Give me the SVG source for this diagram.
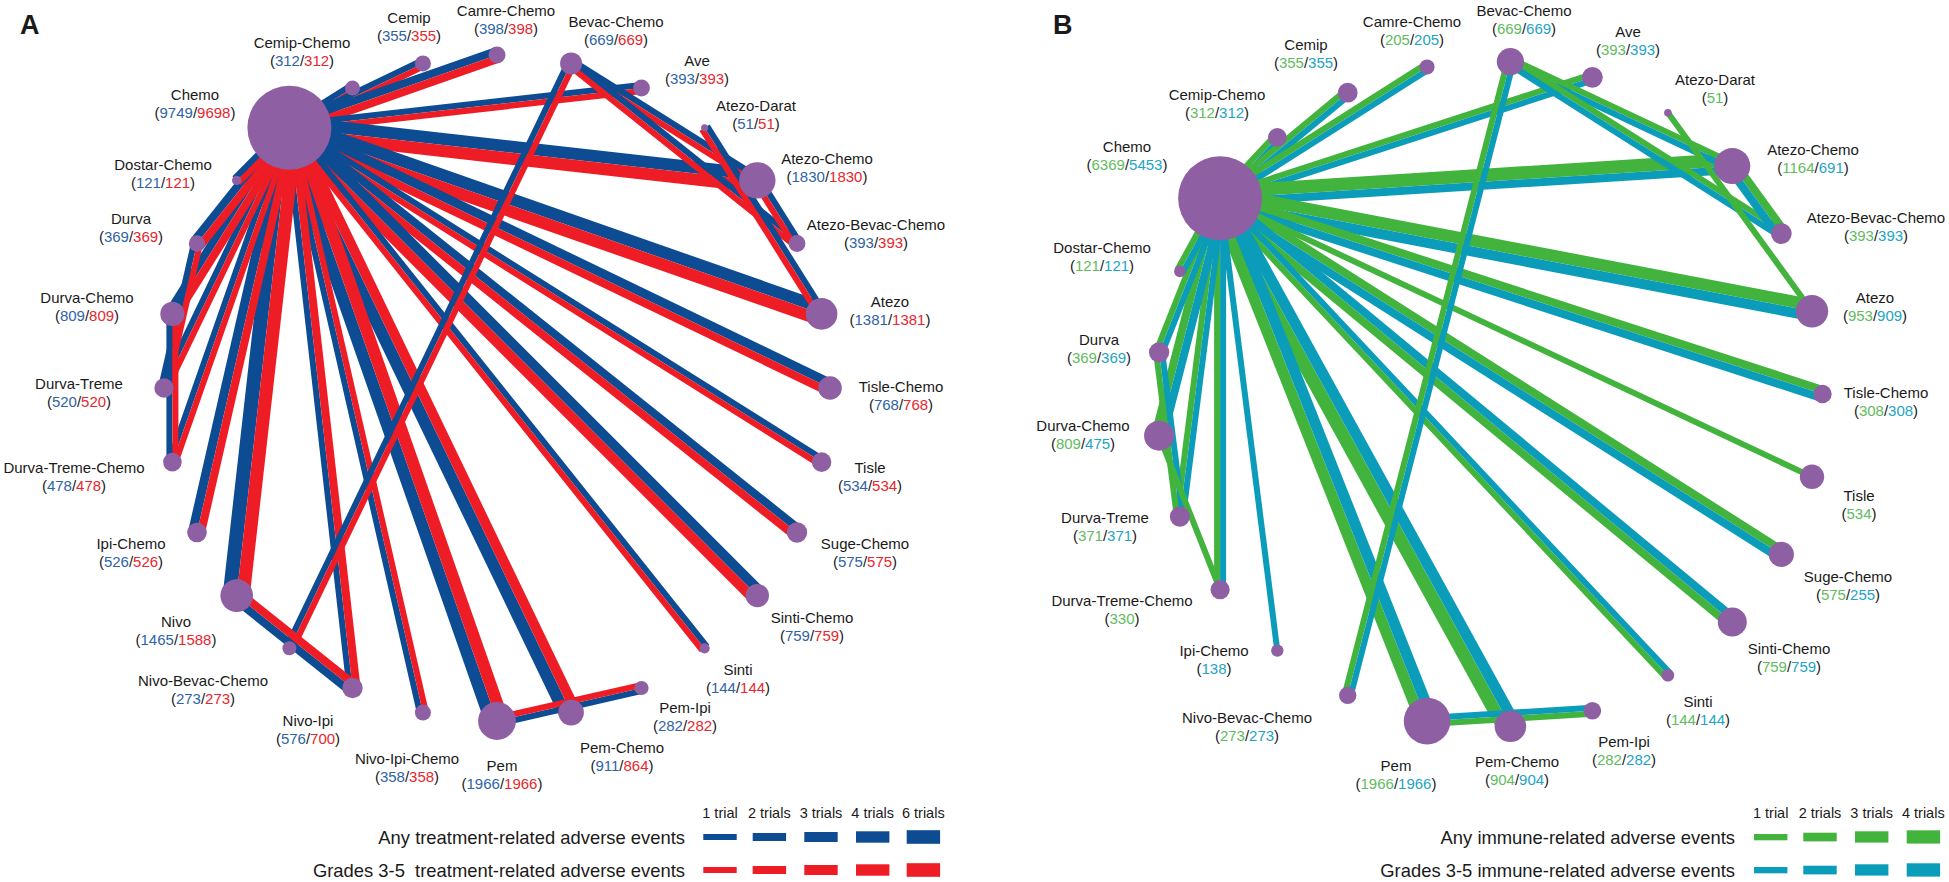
<svg xmlns="http://www.w3.org/2000/svg" width="1949" height="882" viewBox="0 0 1949 882">
<style>
.b{fill:#0d4c92}.r{fill:#ee1c25}.g{fill:#42b43e}.c{fill:#0b9cba}.n{fill:#8f5fa3}
text{font-family:"Liberation Sans",Arial,sans-serif;fill:#1a1a1a}
.t{font-size:15px;text-anchor:middle}
.nb{fill:#2f63a8}.nr{fill:#e8262d}.ng{fill:#62bb5e}.nc{fill:#22a4c4}
.lg{font-size:18.4px;text-anchor:end}.lt{font-size:14.5px;text-anchor:middle}
.pl{font-size:27px;font-weight:bold}
</style>
<rect width="1949" height="882" fill="#fff"/>
<text class="pl" x="20" y="34">A</text>
<text class="pl" x="1053" y="34">B</text>
<g id="edges-A">
<g transform="translate(289.4 127.7) rotate(327.86)"><rect y="-6" width="74.6" height="6" class="b"/><rect width="74.6" height="6" class="r"/></g>
<g transform="translate(289.4 127.7) rotate(334.29)"><rect y="-6" width="148.2" height="6" class="b"/><rect width="148.2" height="6" class="r"/></g>
<g transform="translate(289.4 127.7) rotate(340.71)"><rect y="-8" width="220" height="8" class="b"/><rect width="220" height="8" class="r"/></g>
<g transform="translate(289.4 127.7) rotate(353.57)"><rect y="-6" width="354.3" height="6" class="b"/><rect width="354.3" height="6" class="r"/></g>
<g transform="translate(289.4 127.7) rotate(6.43)"><rect y="-12" width="470.9" height="12" class="b"/><rect width="470.9" height="12" class="r"/></g>
<g transform="translate(289.4 127.7) rotate(19.29)"><rect y="-12" width="563.9" height="12" class="b"/><rect width="563.9" height="12" class="r"/></g>
<g transform="translate(289.4 127.7) rotate(25.71)"><rect y="-9" width="600" height="9" class="b"/><rect width="600" height="8" class="r"/></g>
<g transform="translate(289.4 127.7) rotate(32.14)"><rect y="-6" width="628.6" height="6" class="b"/><rect width="628.6" height="6" class="r"/></g>
<g transform="translate(289.4 127.7) rotate(38.57)"><rect y="-8" width="649.3" height="8" class="b"/><rect width="649.3" height="8" class="r"/></g>
<g transform="translate(289.4 127.7) rotate(45)"><rect y="-10" width="661.8" height="10" class="b"/><rect width="661.8" height="10" class="r"/></g>
<g transform="translate(289.4 127.7) rotate(51.43)"><rect y="-6" width="666" height="6" class="b"/><rect width="666" height="6" class="r"/></g>
<g transform="translate(571.1 712.6) rotate(244.29)"><rect y="-12" width="649.3" height="12" class="b"/><rect width="649.3" height="10" class="r"/></g>
<g transform="translate(497 721) rotate(250.71)"><rect y="-12" width="628.6" height="12" class="b"/><rect width="628.6" height="12" class="r"/></g>
<g transform="translate(422.9 712.6) rotate(257.14)"><rect y="-6" width="600" height="6" class="b"/><rect width="600" height="6" class="r"/></g>
<g transform="translate(352.5 688) rotate(263.57)"><rect y="-6" width="563.9" height="6" class="b"/><rect width="563.9" height="8" class="r"/></g>
<g transform="translate(236.7 595.6) rotate(276.43)"><rect y="-14" width="470.9" height="14" class="b"/><rect width="470.9" height="13" class="r"/></g>
<g transform="translate(197 532.5) rotate(282.86)"><rect y="-9" width="415.2" height="9" class="b"/><rect width="415.2" height="8" class="r"/></g>
<g transform="translate(172.4 462.1) rotate(289.29)"><rect y="-6" width="354.3" height="6" class="b"/><rect width="354.3" height="6" class="r"/></g>
<g transform="translate(164 388) rotate(295.71)"><rect y="-6" width="289" height="6" class="b"/><rect width="289" height="6" class="r"/></g>
<g transform="translate(172.4 313.9) rotate(302.14)"><rect y="-8" width="220" height="8" class="b"/><rect width="220" height="8" class="r"/></g>
<g transform="translate(197 243.5) rotate(308.57)"><rect y="-8" width="148.2" height="8" class="b"/><rect width="148.2" height="8" class="r"/></g>
<g transform="translate(236.7 180.4) rotate(315)"><rect y="-6" width="74.6" height="6" class="b"/><rect width="74.6" height="6" class="r"/></g>
<g transform="translate(571.1 63.4) rotate(32.14)"><rect y="-6" width="220" height="6" class="b"/><rect width="220" height="6" class="r"/></g>
<g transform="translate(571.1 63.4) rotate(38.57)"><rect y="-6" width="289" height="6" class="b"/><rect width="289" height="6" class="r"/></g>
<g transform="translate(757.3 180.4) rotate(57.86)"><rect y="-6" width="74.6" height="6" class="b"/><rect width="74.6" height="6" class="r"/></g>
<g transform="translate(704.6 127.7) rotate(57.86)"><rect y="-6" width="220" height="6" class="b"/><rect width="220" height="6" class="r"/></g>
<g transform="translate(289.4 648.3) rotate(295.71)"><rect y="-6" width="649.3" height="6" class="b"/><rect width="649.3" height="6" class="r"/></g>
<g transform="translate(641.5 688) rotate(167.14)"><rect y="-6" width="148.2" height="6" class="b"/><rect width="148.2" height="6" class="r"/></g>
<g transform="translate(352.5 688) rotate(218.57)"><rect y="-8" width="148.2" height="8" class="b"/><rect width="148.2" height="8" class="r"/></g>
<g transform="translate(164 388) rotate(282.86)"><rect y="-6" width="148.2" height="6" class="b"/><rect width="148.2" height="6" class="r"/></g>
<g transform="translate(172.4 462.1) rotate(270)"><rect y="-6" width="148.2" height="6" class="b"/><rect width="148.2" height="6" class="r"/></g>
</g>
<g id="edges-B">
<g transform="translate(1220.1 198.3) rotate(313.2)"><rect y="-6" width="83.5" height="6" class="g"/><rect width="83.5" height="6" class="c"/></g>
<g transform="translate(1220.1 198.3) rotate(320.4)"><rect y="-6" width="165.6" height="6" class="g"/><rect width="165.6" height="6" class="c"/></g>
<g transform="translate(1220.1 198.3) rotate(327.6)"><rect y="-6" width="245.2" height="6" class="g"/><rect width="245.2" height="6" class="c"/></g>
<g transform="translate(1220.1 198.3) rotate(342)"><rect y="-6" width="391.5" height="6" class="g"/><rect width="391.5" height="6" class="c"/></g>
<g transform="translate(1220.1 198.3) rotate(356.4)"><rect y="-13" width="513.2" height="13" class="g"/><rect width="513.2" height="8" class="c"/></g>
<g transform="translate(1220.1 198.3) rotate(10.8)"><rect y="-12" width="602.6" height="12" class="g"/><rect width="602.6" height="10" class="c"/></g>
<g transform="translate(1220.1 198.3) rotate(18)"><rect y="-8" width="633.4" height="8" class="g"/><rect width="633.4" height="8" class="c"/></g>
<g transform="translate(1220.1 198.3) rotate(25.2)"><rect y="-3" width="654.2" height="6" class="g"/></g>
<g transform="translate(1220.1 198.3) rotate(32.4)"><rect y="-8" width="664.7" height="8" class="g"/><rect width="664.7" height="8" class="c"/></g>
<g transform="translate(1732.3 621.9) rotate(219.6)"><rect y="-8" width="664.7" height="8" class="g"/><rect width="664.7" height="8" class="c"/></g>
<g transform="translate(1667.9 675.2) rotate(226.8)"><rect y="-6" width="654.2" height="6" class="g"/><rect width="654.2" height="6" class="c"/></g>
<g transform="translate(1510.4 726.3) rotate(241.2)"><rect y="-13" width="602.6" height="13" class="g"/><rect width="602.6" height="11" class="c"/></g>
<g transform="translate(1427.1 721.1) rotate(248.4)"><rect y="-11" width="562.3" height="11" class="g"/><rect width="562.3" height="11" class="c"/></g>
<g transform="translate(1277.3 650.6) rotate(262.8)"><rect y="-3" width="455.9" height="6" class="c"/></g>
<g transform="translate(1220.1 589.7) rotate(270)"><rect y="-6" width="391.5" height="6" class="g"/><rect width="391.5" height="6" class="c"/></g>
<g transform="translate(1179.9 516.6) rotate(277.2)"><rect y="-6" width="320.9" height="6" class="g"/><rect width="320.9" height="6" class="c"/></g>
<g transform="translate(1159.1 435.7) rotate(284.4)"><rect y="-8" width="245.2" height="8" class="g"/><rect width="245.2" height="8" class="c"/></g>
<g transform="translate(1159.1 352.3) rotate(291.6)"><rect y="-6" width="165.6" height="6" class="g"/><rect width="165.6" height="6" class="c"/></g>
<g transform="translate(1179.9 271.4) rotate(298.8)"><rect y="-6" width="83.5" height="6" class="g"/><rect width="83.5" height="6" class="c"/></g>
<g transform="translate(1510.4 61.7) rotate(25.2)"><rect y="-6" width="245.2" height="6" class="g"/><rect width="245.2" height="6" class="c"/></g>
<g transform="translate(1510.4 61.7) rotate(32.4)"><rect y="-6" width="320.9" height="6" class="g"/><rect width="320.9" height="6" class="c"/></g>
<g transform="translate(1732.3 166.1) rotate(54)"><rect y="-8" width="83.5" height="8" class="g"/><rect width="83.5" height="8" class="c"/></g>
<g transform="translate(1667.9 112.8) rotate(54)"><rect y="-3" width="245.2" height="6" class="g"/></g>
<g transform="translate(1347.7 695.3) rotate(284.4)"><rect y="-6" width="654.2" height="6" class="g"/><rect width="654.2" height="6" class="c"/></g>
<g transform="translate(1592.4 710.7) rotate(176.4)"><rect y="-6" width="165.6" height="6" class="g"/><rect width="165.6" height="6" class="c"/></g>
<g transform="translate(1179.9 516.6) rotate(262.8)"><rect y="-6" width="165.6" height="6" class="g"/><rect width="165.6" height="6" class="c"/></g>
<g transform="translate(1220.1 589.7) rotate(248.4)"><rect y="-3" width="165.6" height="6" class="g"/></g>
</g>
<g id="a-chemo"><circle cx="289.4" cy="127.7" r="42" class="n"/><text class="t" x="195" y="99.5">Chemo</text><text class="t" x="195" y="118">(<tspan class="nb">9749</tspan>/<tspan class="nr">9698</tspan>)</text></g>
<g id="a-cemip-chemo"><circle cx="352.5" cy="88" r="7.5" class="n"/><text class="t" x="302" y="47.5">Cemip-Chemo</text><text class="t" x="302" y="66">(<tspan class="nb">312</tspan>/<tspan class="nr">312</tspan>)</text></g>
<g id="a-cemip"><circle cx="422.9" cy="63.4" r="8" class="n"/><text class="t" x="409" y="22.5">Cemip</text><text class="t" x="409" y="41">(<tspan class="nb">355</tspan>/<tspan class="nr">355</tspan>)</text></g>
<g id="a-camre-chemo"><circle cx="497" cy="55" r="8.5" class="n"/><text class="t" x="506" y="15.5">Camre-Chemo</text><text class="t" x="506" y="34">(<tspan class="nb">398</tspan>/<tspan class="nr">398</tspan>)</text></g>
<g id="a-bevac-chemo"><circle cx="571.1" cy="63.4" r="11" class="n"/><text class="t" x="616" y="26.5">Bevac-Chemo</text><text class="t" x="616" y="45">(<tspan class="nb">669</tspan>/<tspan class="nr">669</tspan>)</text></g>
<g id="a-ave"><circle cx="641.5" cy="88" r="8.4" class="n"/><text class="t" x="697" y="65.5">Ave</text><text class="t" x="697" y="84">(<tspan class="nb">393</tspan>/<tspan class="nr">393</tspan>)</text></g>
<g id="a-atezo-darat"><circle cx="704.6" cy="127.7" r="3.5" class="n"/><text class="t" x="756" y="110.5">Atezo-Darat</text><text class="t" x="756" y="129">(<tspan class="nb">51</tspan>/<tspan class="nr">51</tspan>)</text></g>
<g id="a-atezo-chemo"><circle cx="757.3" cy="180.4" r="18.2" class="n"/><text class="t" x="827" y="163.5">Atezo-Chemo</text><text class="t" x="827" y="182">(<tspan class="nb">1830</tspan>/<tspan class="nr">1830</tspan>)</text></g>
<g id="a-atezo-bevac-chemo"><circle cx="797" cy="243.5" r="8.4" class="n"/><text class="t" x="876" y="229.5">Atezo-Bevac-Chemo</text><text class="t" x="876" y="248">(<tspan class="nb">393</tspan>/<tspan class="nr">393</tspan>)</text></g>
<g id="a-atezo"><circle cx="821.6" cy="313.9" r="15.8" class="n"/><text class="t" x="890" y="306.5">Atezo</text><text class="t" x="890" y="325">(<tspan class="nb">1381</tspan>/<tspan class="nr">1381</tspan>)</text></g>
<g id="a-tisle-chemo"><circle cx="830" cy="388" r="11.8" class="n"/><text class="t" x="901" y="391.5">Tisle-Chemo</text><text class="t" x="901" y="410">(<tspan class="nb">768</tspan>/<tspan class="nr">768</tspan>)</text></g>
<g id="a-tisle"><circle cx="821.6" cy="462.1" r="9.8" class="n"/><text class="t" x="870" y="472.5">Tisle</text><text class="t" x="870" y="491">(<tspan class="nb">534</tspan>/<tspan class="nr">534</tspan>)</text></g>
<g id="a-suge-chemo"><circle cx="797" cy="532.5" r="10.2" class="n"/><text class="t" x="865" y="548.5">Suge-Chemo</text><text class="t" x="865" y="567">(<tspan class="nb">575</tspan>/<tspan class="nr">575</tspan>)</text></g>
<g id="a-sinti-chemo"><circle cx="757.3" cy="595.6" r="11.7" class="n"/><text class="t" x="812" y="622.5">Sinti-Chemo</text><text class="t" x="812" y="641">(<tspan class="nb">759</tspan>/<tspan class="nr">759</tspan>)</text></g>
<g id="a-sinti"><circle cx="704.6" cy="648.3" r="5.1" class="n"/><text class="t" x="738" y="674.5">Sinti</text><text class="t" x="738" y="693">(<tspan class="nb">144</tspan>/<tspan class="nr">144</tspan>)</text></g>
<g id="a-pem-ipi"><circle cx="641.5" cy="688" r="7.1" class="n"/><text class="t" x="685" y="712.5">Pem-Ipi</text><text class="t" x="685" y="731">(<tspan class="nb">282</tspan>/<tspan class="nr">282</tspan>)</text></g>
<g id="a-pem-chemo"><circle cx="571.1" cy="712.6" r="12.8" class="n"/><text class="t" x="622" y="752.5">Pem-Chemo</text><text class="t" x="622" y="771">(<tspan class="nb">911</tspan>/<tspan class="nr">864</tspan>)</text></g>
<g id="a-pem"><circle cx="497" cy="721" r="18.9" class="n"/><text class="t" x="502" y="770.5">Pem</text><text class="t" x="502" y="789">(<tspan class="nb">1966</tspan>/<tspan class="nr">1966</tspan>)</text></g>
<g id="a-nivo-ipi-chemo"><circle cx="422.9" cy="712.6" r="8" class="n"/><text class="t" x="407" y="763.5">Nivo-Ipi-Chemo</text><text class="t" x="407" y="782">(<tspan class="nb">358</tspan>/<tspan class="nr">358</tspan>)</text></g>
<g id="a-nivo-ipi"><circle cx="352.5" cy="688" r="10.2" class="n"/><text class="t" x="308" y="725.5">Nivo-Ipi</text><text class="t" x="308" y="744">(<tspan class="nb">576</tspan>/<tspan class="nr">700</tspan>)</text></g>
<g id="a-nivo-bevac-chemo"><circle cx="289.4" cy="648.3" r="7" class="n"/><text class="t" x="203" y="685.5">Nivo-Bevac-Chemo</text><text class="t" x="203" y="704">(<tspan class="nb">273</tspan>/<tspan class="nr">273</tspan>)</text></g>
<g id="a-nivo"><circle cx="236.7" cy="595.6" r="16.3" class="n"/><text class="t" x="176" y="626.5">Nivo</text><text class="t" x="176" y="645">(<tspan class="nb">1465</tspan>/<tspan class="nr">1588</tspan>)</text></g>
<g id="a-ipi-chemo"><circle cx="197" cy="532.5" r="9.8" class="n"/><text class="t" x="131" y="548.5">Ipi-Chemo</text><text class="t" x="131" y="567">(<tspan class="nb">526</tspan>/<tspan class="nr">526</tspan>)</text></g>
<g id="a-durva-treme-chemo"><circle cx="172.4" cy="462.1" r="9.3" class="n"/><text class="t" x="74" y="472.5">Durva-Treme-Chemo</text><text class="t" x="74" y="491">(<tspan class="nb">478</tspan>/<tspan class="nr">478</tspan>)</text></g>
<g id="a-durva-treme"><circle cx="164" cy="388" r="9.7" class="n"/><text class="t" x="79" y="388.5">Durva-Treme</text><text class="t" x="79" y="407">(<tspan class="nb">520</tspan>/<tspan class="nr">520</tspan>)</text></g>
<g id="a-durva-chemo"><circle cx="172.4" cy="313.9" r="12.1" class="n"/><text class="t" x="87" y="302.5">Durva-Chemo</text><text class="t" x="87" y="321">(<tspan class="nb">809</tspan>/<tspan class="nr">809</tspan>)</text></g>
<g id="a-durva"><circle cx="197" cy="243.5" r="8.2" class="n"/><text class="t" x="131" y="223.5">Durva</text><text class="t" x="131" y="242">(<tspan class="nb">369</tspan>/<tspan class="nr">369</tspan>)</text></g>
<g id="a-dostar-chemo"><circle cx="236.7" cy="180.4" r="4.7" class="n"/><text class="t" x="163" y="169.5">Dostar-Chemo</text><text class="t" x="163" y="188">(<tspan class="nb">121</tspan>/<tspan class="nr">121</tspan>)</text></g>
<g id="b-chemo"><circle cx="1220.1" cy="198.3" r="42" class="n"/><text class="t" x="1127" y="151.5">Chemo</text><text class="t" x="1127" y="170">(<tspan class="ng">6369</tspan>/<tspan class="nc">5453</tspan>)</text></g>
<g id="b-cemip-chemo"><circle cx="1277.3" cy="137.4" r="9.3" class="n"/><text class="t" x="1217" y="99.5">Cemip-Chemo</text><text class="t" x="1217" y="118">(<tspan class="ng">312</tspan>/<tspan class="nc">312</tspan>)</text></g>
<g id="b-cemip"><circle cx="1347.7" cy="92.7" r="9.9" class="n"/><text class="t" x="1306" y="49.5">Cemip</text><text class="t" x="1306" y="68">(<tspan class="ng">355</tspan>/<tspan class="nc">355</tspan>)</text></g>
<g id="b-camre-chemo"><circle cx="1427.1" cy="66.9" r="7.5" class="n"/><text class="t" x="1412" y="26.5">Camre-Chemo</text><text class="t" x="1412" y="45">(<tspan class="ng">205</tspan>/<tspan class="nc">205</tspan>)</text></g>
<g id="b-bevac-chemo"><circle cx="1510.4" cy="61.7" r="13.6" class="n"/><text class="t" x="1524" y="15.5">Bevac-Chemo</text><text class="t" x="1524" y="34">(<tspan class="ng">669</tspan>/<tspan class="nc">669</tspan>)</text></g>
<g id="b-ave"><circle cx="1592.4" cy="77.3" r="10.4" class="n"/><text class="t" x="1628" y="36.5">Ave</text><text class="t" x="1628" y="55">(<tspan class="ng">393</tspan>/<tspan class="nc">393</tspan>)</text></g>
<g id="b-atezo-darat"><circle cx="1667.9" cy="112.8" r="3.8" class="n"/><text class="t" x="1715" y="84.5">Atezo-Darat</text><text class="t" x="1715" y="103">(<tspan class="ng">51</tspan>)</text></g>
<g id="b-atezo-chemo"><circle cx="1732.3" cy="166.1" r="18" class="n"/><text class="t" x="1813" y="154.5">Atezo-Chemo</text><text class="t" x="1813" y="173">(<tspan class="ng">1164</tspan>/<tspan class="nc">691</tspan>)</text></g>
<g id="b-atezo-bevac-chemo"><circle cx="1781.3" cy="233.6" r="10.4" class="n"/><text class="t" x="1876" y="222.5">Atezo-Bevac-Chemo</text><text class="t" x="1876" y="241">(<tspan class="ng">393</tspan>/<tspan class="nc">393</tspan>)</text></g>
<g id="b-atezo"><circle cx="1812" cy="311.2" r="16.2" class="n"/><text class="t" x="1875" y="302.5">Atezo</text><text class="t" x="1875" y="321">(<tspan class="ng">953</tspan>/<tspan class="nc">909</tspan>)</text></g>
<g id="b-tisle-chemo"><circle cx="1822.5" cy="394" r="9.2" class="n"/><text class="t" x="1886" y="397.5">Tisle-Chemo</text><text class="t" x="1886" y="416">(<tspan class="ng">308</tspan>/<tspan class="nc">308</tspan>)</text></g>
<g id="b-tisle"><circle cx="1812" cy="476.8" r="12.2" class="n"/><text class="t" x="1859" y="500.5">Tisle</text><text class="t" x="1859" y="519">(<tspan class="ng">534</tspan>)</text></g>
<g id="b-suge-chemo"><circle cx="1781.3" cy="554.4" r="12.6" class="n"/><text class="t" x="1848" y="581.5">Suge-Chemo</text><text class="t" x="1848" y="600">(<tspan class="ng">575</tspan>/<tspan class="nc">255</tspan>)</text></g>
<g id="b-sinti-chemo"><circle cx="1732.3" cy="621.9" r="14.5" class="n"/><text class="t" x="1789" y="653.5">Sinti-Chemo</text><text class="t" x="1789" y="672">(<tspan class="ng">759</tspan>/<tspan class="nc">759</tspan>)</text></g>
<g id="b-sinti"><circle cx="1667.9" cy="675.2" r="6.3" class="n"/><text class="t" x="1698" y="706.5">Sinti</text><text class="t" x="1698" y="725">(<tspan class="ng">144</tspan>/<tspan class="nc">144</tspan>)</text></g>
<g id="b-pem-ipi"><circle cx="1592.4" cy="710.7" r="8.8" class="n"/><text class="t" x="1624" y="746.5">Pem-Ipi</text><text class="t" x="1624" y="765">(<tspan class="ng">282</tspan>/<tspan class="nc">282</tspan>)</text></g>
<g id="b-pem-chemo"><circle cx="1510.4" cy="726.3" r="15.8" class="n"/><text class="t" x="1517" y="766.5">Pem-Chemo</text><text class="t" x="1517" y="785">(<tspan class="ng">904</tspan>/<tspan class="nc">904</tspan>)</text></g>
<g id="b-pem"><circle cx="1427.1" cy="721.1" r="23.3" class="n"/><text class="t" x="1396" y="770.5">Pem</text><text class="t" x="1396" y="789">(<tspan class="ng">1966</tspan>/<tspan class="nc">1966</tspan>)</text></g>
<g id="b-nivo-bevac-chemo"><circle cx="1347.7" cy="695.3" r="8.7" class="n"/><text class="t" x="1247" y="722.5">Nivo-Bevac-Chemo</text><text class="t" x="1247" y="741">(<tspan class="ng">273</tspan>/<tspan class="nc">273</tspan>)</text></g>
<g id="b-ipi-chemo"><circle cx="1277.3" cy="650.6" r="6.2" class="n"/><text class="t" x="1214" y="655.5">Ipi-Chemo</text><text class="t" x="1214" y="674">(<tspan class="nc">138</tspan>)</text></g>
<g id="b-durva-treme-chemo"><circle cx="1220.1" cy="589.7" r="9.6" class="n"/><text class="t" x="1122" y="605.5">Durva-Treme-Chemo</text><text class="t" x="1122" y="624">(<tspan class="ng">330</tspan>)</text></g>
<g id="b-durva-treme"><circle cx="1179.9" cy="516.6" r="10.1" class="n"/><text class="t" x="1105" y="522.5">Durva-Treme</text><text class="t" x="1105" y="541">(<tspan class="ng">371</tspan>/<tspan class="nc">371</tspan>)</text></g>
<g id="b-durva-chemo"><circle cx="1159.1" cy="435.7" r="15" class="n"/><text class="t" x="1083" y="430.5">Durva-Chemo</text><text class="t" x="1083" y="449">(<tspan class="ng">809</tspan>/<tspan class="nc">475</tspan>)</text></g>
<g id="b-durva"><circle cx="1159.1" cy="352.3" r="10.1" class="n"/><text class="t" x="1099" y="344.5">Durva</text><text class="t" x="1099" y="363">(<tspan class="ng">369</tspan>/<tspan class="nc">369</tspan>)</text></g>
<g id="b-dostar-chemo"><circle cx="1179.9" cy="271.4" r="5.8" class="n"/><text class="t" x="1102" y="252.5">Dostar-Chemo</text><text class="t" x="1102" y="271">(<tspan class="ng">121</tspan>/<tspan class="nc">121</tspan>)</text></g>
<g id="legend-A">
<text class="lt" x="720" y="818">1 trial</text><text class="lt" x="769.3" y="818">2 trials</text><text class="lt" x="821" y="818">3 trials</text><text class="lt" x="872.7" y="818">4 trials</text><text class="lt" x="923.3" y="818">6 trials</text>
<text class="lg" x="685" y="843.5">Any treatment-related adverse events</text>
<text class="lg" x="685" y="876.5" xml:space="preserve">Grades 3-5  treatment-related adverse events</text>
<rect class="b" x="703.3" y="834" width="33.4" height="6"/><rect class="b" x="752.7" y="833" width="33.4" height="8"/><rect class="b" x="804.3" y="832" width="33.4" height="10"/><rect class="b" x="856" y="831.3" width="33.4" height="11.4"/><rect class="b" x="906.7" y="830.2" width="33.4" height="13.6"/>
<rect class="r" x="703.3" y="867" width="33.4" height="6"/><rect class="r" x="752.7" y="866" width="33.4" height="8"/><rect class="r" x="804.3" y="865" width="33.4" height="10"/><rect class="r" x="856" y="864.3" width="33.4" height="11.4"/><rect class="r" x="906.7" y="863.2" width="33.4" height="13.6"/>
</g>
<g id="legend-B">
<text class="lt" x="1770.7" y="818">1 trial</text><text class="lt" x="1820" y="818">2 trials</text><text class="lt" x="1871.7" y="818">3 trials</text><text class="lt" x="1923.3" y="818">4 trials</text>
<text class="lg" x="1735" y="843.5">Any immune-related adverse events</text>
<text class="lg" x="1735" y="876.5">Grades 3-5 immune-related adverse events</text>
<rect class="g" x="1754" y="834" width="33.4" height="6.3"/><rect class="g" x="1803.3" y="832.7" width="33.4" height="8.7"/><rect class="g" x="1855" y="831.3" width="33.4" height="11.3"/><rect class="g" x="1906.7" y="830.3" width="33.4" height="13.3"/>
<rect class="c" x="1754" y="867" width="33.4" height="6.3"/><rect class="c" x="1803.3" y="865.7" width="33.4" height="8.7"/><rect class="c" x="1855" y="864.3" width="33.4" height="11.3"/><rect class="c" x="1906.7" y="863.3" width="33.4" height="13.3"/>
</g>
</svg>
